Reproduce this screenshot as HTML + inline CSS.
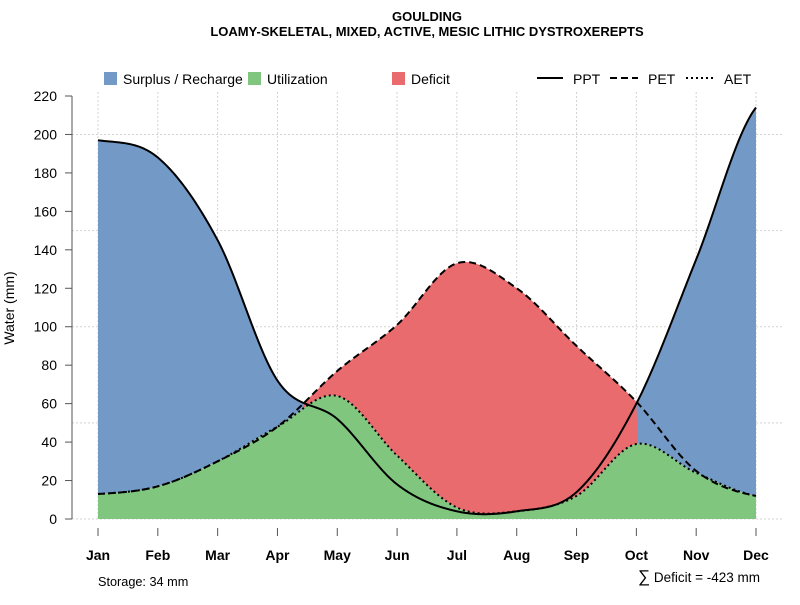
<!DOCTYPE html>
<html><head><meta charset="utf-8"><style>
body{margin:0;background:#fff;font-family:"Liberation Sans",sans-serif}
svg text{font-family:"Liberation Sans",sans-serif}
</style></head><body>
<svg id="chart" width="800" height="600" viewBox="0 0 800 600" xmlns="http://www.w3.org/2000/svg">
<text x="427" y="21" font-size="13" font-weight="bold" text-anchor="middle">GOULDING</text>
<text x="427" y="36" font-size="13" font-weight="bold" text-anchor="middle">LOAMY-SKELETAL, MIXED, ACTIVE, MESIC LITHIC DYSTROXEREPTS</text>
<g id="grid"></g>
<g id="areas"></g>
<g id="lines"></g>
<g id="axes"></g>
<g font-size="14">
<rect x="104" y="72" width="13" height="13" fill="#7399c6"/>
<text x="123" y="84">Surplus / Recharge</text>
<rect x="248" y="72" width="13" height="13" fill="#80c67e"/>
<text x="267" y="84">Utilization</text>
<rect x="392" y="72" width="13" height="13" fill="#e96b6e"/>
<text x="411" y="84">Deficit</text>
<line x1="537" y1="78" x2="563" y2="78" stroke="#000" stroke-width="2"/>
<text x="573" y="84">PPT</text>
<line x1="610" y1="78" x2="638" y2="78" stroke="#000" stroke-width="2" stroke-dasharray="7,4"/>
<text x="648" y="84">PET</text>
<line x1="686" y1="78" x2="714" y2="78" stroke="#000" stroke-width="2" stroke-dasharray="2,3"/>
<text x="724" y="84">AET</text>
</g>
<text transform="translate(14,308) rotate(-90)" font-size="14" text-anchor="middle">Water (mm)</text>
<text x="98" y="586" font-size="12.7">Storage: 34 mm</text>
<text x="638" y="582" font-size="13.5"><tspan font-size="17">∑</tspan> Deficit = -423 mm</text>
</svg>
<script>
const months=["Jan","Feb","Mar","Apr","May","Jun","Jul","Aug","Sep","Oct","Nov","Dec"];
const ppt=[197,188,145,72,52,18,4,4,14,60,135,214];
const pet=[13,17,30,48,77,101,133,120,90,61,25,12];
const aet=[13,17,30,48,64,33,6,4,12,39,24,12];
const yTicks=[0,20,40,60,80,100,120,140,160,180,200,220];
const NS="http://www.w3.org/2000/svg";
const X=i=>98+i*(756-98)/11;
const Y=v=>519-v*(519-96)/220;
function mk(t,a,p){const e=document.createElementNS(NS,t);for(const k in a)e.setAttribute(k,a[k]);p.appendChild(e);return e;}
function interp(arr,t){const i=Math.min(Math.floor(t),arr.length-2),f=t-i;
 const p0=arr[Math.max(i-1,0)],p1=arr[i],p2=arr[i+1],p3=arr[Math.min(i+2,arr.length-1)];
 return 0.5*((2*p1)+(-p0+p2)*f+(2*p0-5*p1+4*p2-p3)*f*f+(-p0+3*p1-3*p2+p3)*f*f*f);}
const N=440,ts=[];for(let k=0;k<=N;k++)ts.push(k*11/N);
const sP=ts.map(t=>interp(ppt,t)),sE=ts.map(t=>interp(pet,t)),sA=ts.map(t=>interp(aet,t));
const grid=document.getElementById('grid');
[0,50,100,150,200].forEach(v=>{const l=mk('line',{x1:72,x2:782,y1:Y(v),y2:Y(v),stroke:'#d3d3d3','stroke-dasharray':'2,2'},grid);
});
months.forEach((m,i)=>{const l=mk('line',{x1:X(i),x2:X(i),y1:92,y2:519,stroke:'#d3d3d3','stroke-dasharray':'2,2'},grid);
});
const areas=document.getElementById('areas');
function band(lo,hi,fill,name){let d='M'+ts.map((t,k)=>X(t)+','+Y(hi[k])).join('L');
 for(let k=N;k>=0;k--)d+='L'+X(ts[k])+','+Y(lo[k]);d+='Z';
 const p=mk('path',{d:d,fill:fill},areas);}
const zero=ts.map(()=>0);
band(sA,sP.map((v,k)=>Math.max(v,sA[k])),'#7399c6','surplus-area');
band(sA,sE.map((v,k)=>sP[k]<v?Math.max(v,sA[k]):sA[k]),'#e96b6e','deficit-area');
band(zero,sA,'#80c67e','utilization-area');
const lines=document.getElementById('lines');
function line(s,dash,name){const p=mk('path',{d:'M'+ts.map((t,k)=>X(t)+','+Y(s[k])).join('L'),fill:'none',stroke:'#000','stroke-width':2,'stroke-dasharray':dash},lines);
 }
line(sE,'7,4','pet-line');line(sA,'2,3','aet-line');line(sP,'none','ppt-line');
const axes=document.getElementById('axes');
const ya=mk('line',{x1:72,x2:72,y1:Y(0),y2:Y(220),stroke:'#555','stroke-width':1},axes);

yTicks.forEach(v=>{const t=mk('line',{x1:65,x2:72,y1:Y(v),y2:Y(v),stroke:'#555'},axes);

const tx=mk('text',{x:57,y:Y(v)+5,'font-size':14,'text-anchor':'end'},axes);tx.textContent=v;
});
months.forEach((m,i)=>{const t=mk('line',{x1:X(i),x2:X(i),y1:528,y2:536,stroke:'#555'},axes);

const tx=mk('text',{x:X(i),y:560,'font-size':14,'font-weight':'bold','text-anchor':'middle'},axes);tx.textContent=m;
});
</script>
</body></html>
